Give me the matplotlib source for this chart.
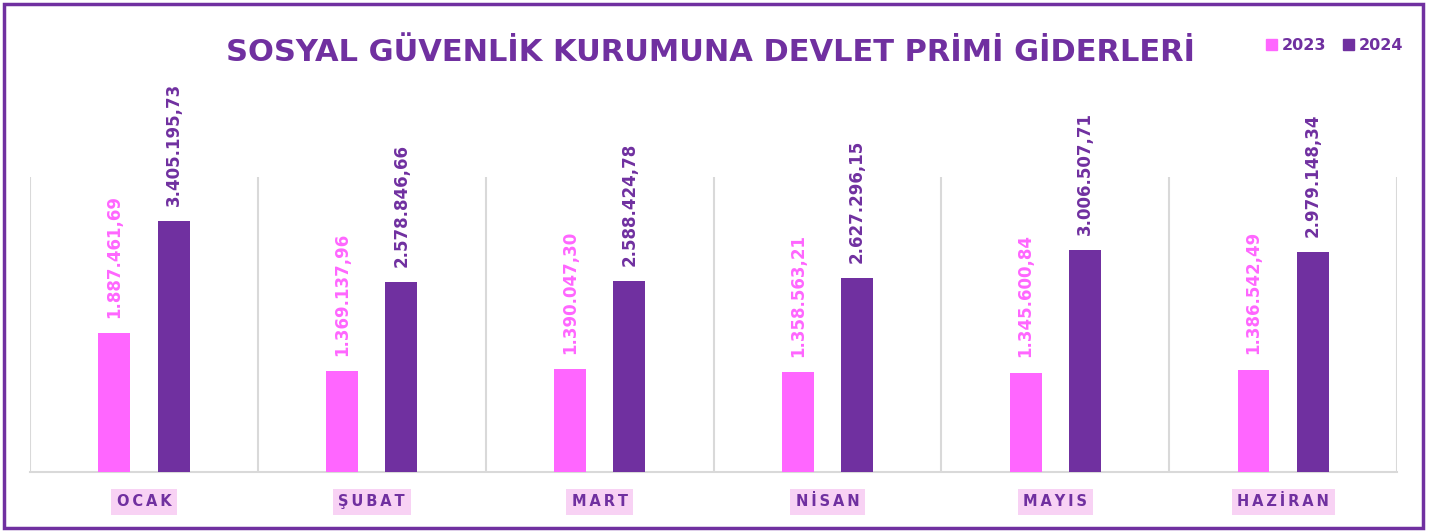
import numpy as np
import matplotlib.pyplot as plt
from matplotlib.patches import Rectangle, Patch

# Veriler
aylar = ['OCAK', 'ŞUBAT', 'MART', 'NİSAN', 'MAYIS', 'HAZİRAN']
y2023 = [1887461.69, 1369137.96, 1390047.30, 1358563.21, 1345600.84, 1386542.49]
y2024 = [3405195.73, 2578846.66, 2588424.78, 2627296.15, 3006507.71, 2979148.34]

pembe = '#FF66FF'
mor = '#7030A0'


def tr_format(v):
    s = f'{v:,.2f}'
    return s.replace(',', 'X').replace('.', ',').replace('X', '.')


fig = plt.figure(figsize=(14.45, 5.32), dpi=100)
ax = fig.add_axes([0.0208, 0.1128, 0.9460, 0.5545])

x = np.arange(len(aylar))
w = 0.14
off = 0.13
b1 = ax.bar(x - off, y2023, w, color=pembe, zorder=3)
b2 = ax.bar(x + off, y2024, w, color=mor, zorder=3)

for bars, vals, c in [(b1, y2023, pembe), (b2, y2024, mor)]:
    for r, v in zip(bars, vals):
        ax.annotate(tr_format(v), (r.get_x() + r.get_width() / 2, r.get_height()),
                    xytext=(0, 11), textcoords='offset points', rotation=90,
                    ha='center', va='bottom', color=c, fontsize=12,
                    fontweight='bold', annotation_clip=False)

ax.set_xlim(-0.5, len(aylar) - 0.5)
ax.set_ylim(0, 4000000)
ax.set_yticks([])
ax.set_xticks(x)
ax.set_xticklabels(['\u2009'.join(a) for a in aylar], color=mor, fontsize=10.5,
                   fontweight='bold')
for lbl in ax.get_xticklabels():
    lbl.set_bbox(dict(facecolor='#F8D2F4', edgecolor='none', pad=4))
ax.tick_params(axis='x', length=0, pad=16)
ax.set_xticks(np.arange(-0.5, len(aylar)), minor=True)
ax.tick_params(axis='x', which='minor', length=0)
ax.grid(axis='x', which='minor', color='#D9D9D9', lw=1.5, zorder=0)
for s in ['top', 'left', 'right']:
    ax.spines[s].set_visible(False)
ax.spines['bottom'].set_color('#D9D9D9')
ax.spines['bottom'].set_linewidth(1.5)

fig.text(0.492, 0.902, 'SOSYAL GÜVENLİK KURUMUNA DEVLET PRİMİ GİDERLERİ',
         ha='center', va='center', color=mor, fontsize=22, fontweight='bold')

handles = [Patch(color=pembe, label='2023'), Patch(color=mor, label='2024')]
leg = fig.legend(handles=handles, loc='center right', bbox_to_anchor=(0.981, 0.915),
                 ncol=2, frameon=False, handlelength=0.7, handleheight=0.7,
                 handletextpad=0.3, columnspacing=1.0, fontsize=11.5)
for t in leg.get_texts():
    t.set_color(mor)
    t.set_fontweight('bold')

# Çerçeve
fig.patches.append(Rectangle((0.003, 0.008), 0.982, 0.984, transform=fig.transFigure,
                             fill=False, edgecolor=mor, lw=2.5))

fig.savefig('out.png', dpi=100)
